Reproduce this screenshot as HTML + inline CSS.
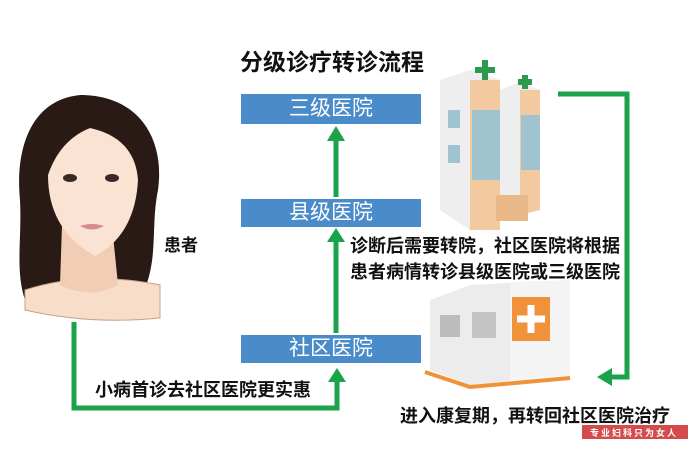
<!DOCTYPE html>
<html><head><meta charset="utf-8"><style>
body{margin:0;width:698px;height:454px;background:#fff;overflow:hidden;position:relative;font-family:"Liberation Sans","Noto Sans CJK SC",sans-serif}
.t{position:absolute;font-weight:bold;color:#111;white-space:nowrap}
.box{position:absolute;left:241px;width:180px;background:#4a8cc9;color:#fff;font-size:21px;text-align:center}
</style></head><body>
<svg width="698" height="454" style="position:absolute;left:0;top:0">
<path d="M80 95 C30 100 15 150 20 200 C22 240 15 270 25 300 L140 300 C160 260 150 230 158 190 C165 140 140 95 80 95Z" fill="#2a1a16"/>
<path d="M25 290 Q85 270 160 285 L160 318 Q90 325 25 310Z" fill="#f8ddc8" stroke="#c9a08a"/>
<path d="M62 225 L60 285 Q90 300 118 285 L112 225Z" fill="#f1cdb5"/>
<path d="M90 128 Q55 140 48 175 Q48 230 95 256 Q135 235 138 180 Q135 138 90 128Z" fill="#fae3d2"/>
<path d="M90 128 Q60 110 40 170 L48 175 Q60 140 90 128Z" fill="#2a1a16"/>
<ellipse cx="70" cy="178" rx="7" ry="4" fill="#3a2a25"/>
<ellipse cx="112" cy="178" rx="7" ry="4" fill="#3a2a25"/>
<path d="M80 226 Q92 233 104 226 Q92 222 80 226Z" fill="#d98a90"/>
<g stroke="#1aa34a" stroke-width="5" fill="none">
<path d="M74 322 V408 H337 V380"/>
<path d="M336 333 V240"/>
<path d="M336 197 V140"/>
<path d="M558 94 H627 V377 H610"/>
</g>
<g fill="#1aa34a">
<polygon points="328,382 346,382 337,368"/>
<polygon points="327,242 345,242 336,228"/>
<polygon points="327,141 345,141 336,126"/>
<polygon points="612,368 612,386 597,377"/>
</g>
<polygon points="440,80 470,70 500,80 500,230 470,230 440,210" fill="#eeeeee"/>
<polygon points="470,80 500,80 500,230 470,230" fill="#f3c9a0"/>
<rect x="472" y="110" width="28" height="70" fill="#9fc3cf"/>
<polygon points="500,90 520,82 540,90 540,210 500,220" fill="#eeeeee"/>
<polygon points="520,90 540,90 540,210 520,215" fill="#f3c9a0"/>
<rect x="521" y="115" width="19" height="55" fill="#9fc3cf"/>
<rect x="448" y="110" width="12" height="18" fill="#9fc3cf"/>
<rect x="448" y="145" width="12" height="18" fill="#9fc3cf"/>
<path d="M475 70 h20 M485 60 v20 M518 82 h14 M525 75 v14" stroke="#2c9a4c" stroke-width="6"/>
<rect x="496" y="195" width="32" height="26" fill="#e8b888"/>
<polygon points="430,300 470,285 570,280 570,375 470,385 430,370" fill="#ececec"/>
<polygon points="510,282 570,280 570,375 510,382" fill="#f4f4f4"/>
<rect x="440" y="315" width="20" height="22" fill="#bcbcbc"/>
<rect x="472" y="312" width="24" height="26" fill="#c4c4c4"/>
<rect x="512" y="297" width="38" height="44" fill="#f0923a"/>
<path d="M531 305 v28 M517 319 h28" stroke="#fff" stroke-width="7"/>
<path d="M425 372 L470 387 L570 378" stroke="#f0923a" stroke-width="4" fill="none"/>
<rect x="582" y="425" width="106" height="14" fill="#d44b4b"/>
</svg>
<div class="t" style="left:240px;top:43px;font-size:23px">分级诊疗转诊流程</div>
<div class="box" style="top:94px;height:30px;line-height:30px">三级医院</div>
<div class="box" style="top:199px;height:28px;line-height:28px">县级医院</div>
<div class="box" style="top:335px;height:28px;line-height:28px">社区医院</div>
<div class="t" style="left:164px;top:231px;font-size:17px">患者</div>
<div class="t" style="left:350px;top:233px;font-size:18px;line-height:26px">诊断后需要转院，社区医院将根据<br>患者病情转诊县级医院或三级医院</div>
<div class="t" style="left:95px;top:376px;font-size:18px">小病首诊去社区医院更实惠</div>
<div class="t" style="left:400px;top:402px;font-size:18px">进入康复期，再转回社区医院治疗</div>
<div class="t" style="left:590px;top:426px;font-size:9px;color:#fff;letter-spacing:2px">专业妇科只为女人</div>
</body></html>
